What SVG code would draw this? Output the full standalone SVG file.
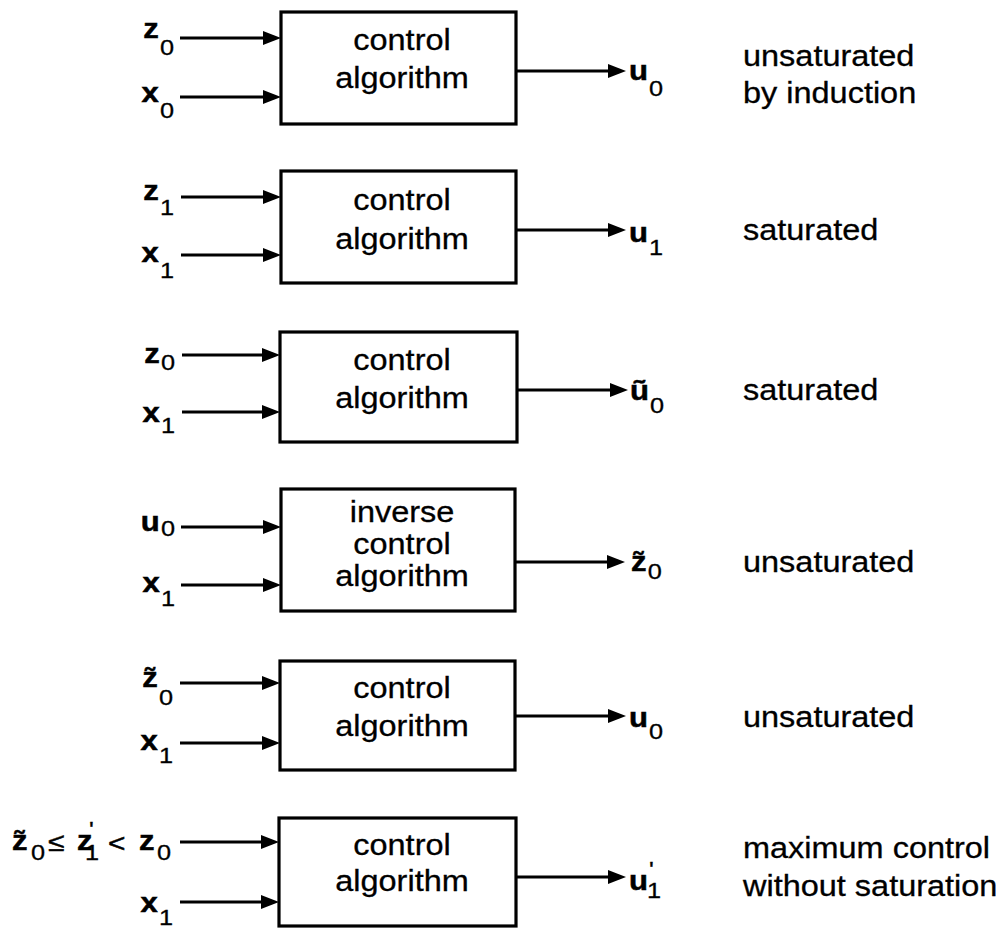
<svg xmlns="http://www.w3.org/2000/svg" width="1004" height="929" viewBox="0 0 1004 929">
  <style>
    text { font-family: "Liberation Sans", Arial, sans-serif; fill: #000; }
    .lbl { font-size: 29px; stroke: #000; stroke-width: 0.3; }
    .blk { text-anchor: middle; }
    .var { font-size: 27px; font-weight: bold; stroke: #000; stroke-width: 0.5; }
    .sub { font-size: 22px; font-weight: normal; stroke: #000; stroke-width: 0.3; }
    .op  { font-size: 26px; font-weight: normal; stroke: #000; stroke-width: 0.5; }
    .box { fill: #fff; stroke: #000; stroke-width: 3.2; }
    .wire { stroke: #000; stroke-width: 3.2; fill: none; marker-end: url(#head); }
  </style>
  <defs>
    <marker id="head" viewBox="0 0 18 14" refX="9" refY="7" markerUnits="userSpaceOnUse" markerWidth="18" markerHeight="14" orient="auto">
      <path d="M0,0 L18,7 L0,14 Z" fill="#000"/>
    </marker>
  </defs>
  <rect width="1004" height="929" fill="#fff"/>

  <!-- connectors: inputs end on the box edge, outputs end before the result symbol -->
  <g id="connectors">
    <line class="wire" x1="180" y1="38" x2="272" y2="38"/>
    <line class="wire" x1="180" y1="97" x2="272" y2="97"/>
    <line class="wire" x1="516" y1="71" x2="617" y2="71"/>

    <line class="wire" x1="181" y1="197" x2="272" y2="197"/>
    <line class="wire" x1="181" y1="255" x2="272" y2="255"/>
    <line class="wire" x1="516" y1="230" x2="617" y2="230"/>

    <line class="wire" x1="182" y1="355" x2="271" y2="355"/>
    <line class="wire" x1="182" y1="412" x2="271" y2="412"/>
    <line class="wire" x1="517" y1="390" x2="619" y2="390"/>

    <line class="wire" x1="181" y1="527" x2="272" y2="527"/>
    <line class="wire" x1="181" y1="585" x2="272" y2="585"/>
    <line class="wire" x1="515" y1="562" x2="616" y2="562"/>

    <line class="wire" x1="180" y1="683" x2="271" y2="683"/>
    <line class="wire" x1="180" y1="743" x2="271" y2="743"/>
    <line class="wire" x1="515" y1="716" x2="617" y2="716"/>

    <line class="wire" x1="180" y1="842" x2="270" y2="842"/>
    <line class="wire" x1="180" y1="902" x2="270" y2="902"/>
    <line class="wire" x1="516" y1="877" x2="617" y2="877"/>
  </g>

  <!-- row 1 -->
  <g id="block1">
    <rect class="box" x="281" y="12" width="235" height="112"/>
    <text class="lbl blk" transform="matrix(1.12 0 0 1 402 0)" y="50">control</text>
    <text class="lbl blk" transform="matrix(1.12 0 0 1 402 0)" y="88">algorithm</text>
  </g>
  <g id="in1">
    <text text-anchor="end" transform="matrix(1.15 0 0 1 174 0)" y="38"><tspan class="var">z</tspan><tspan class="sub" dx="1" dy="17">0</tspan></text>
    <text text-anchor="end" transform="matrix(1.15 0 0 1 174 0)" y="102"><tspan class="var">x</tspan><tspan class="sub" dx="1" dy="16">0</tspan></text>
  </g>
  <g id="out1">
    <text transform="matrix(1.15 0 0 1 629 0)" y="80"><tspan class="var">u</tspan><tspan class="sub" dx="1" dy="16">0</tspan></text>
  </g>
  <g id="note1">
    <text class="lbl" transform="matrix(1.12 0 0 1 743 0)" y="66">unsaturated</text>
    <text class="lbl" transform="matrix(1.12 0 0 1 743 0)" y="103">by induction</text>
  </g>

  <!-- row 2 -->
  <g id="block2">
    <rect class="box" x="281" y="171" width="235" height="112"/>
    <text class="lbl blk" transform="matrix(1.12 0 0 1 402 0)" y="210">control</text>
    <text class="lbl blk" transform="matrix(1.12 0 0 1 402 0)" y="249">algorithm</text>
  </g>
  <g id="in2">
    <text text-anchor="end" transform="matrix(1.15 0 0 1 174 0)" y="200"><tspan class="var">z</tspan><tspan class="sub" dx="1" dy="15">1</tspan></text>
    <text text-anchor="end" transform="matrix(1.15 0 0 1 174 0)" y="262"><tspan class="var">x</tspan><tspan class="sub" dx="1" dy="16">1</tspan></text>
  </g>
  <g id="out2">
    <text transform="matrix(1.15 0 0 1 629 0)" y="242"><tspan class="var">u</tspan><tspan class="sub" dx="1" dy="13">1</tspan></text>
  </g>
  <g id="note2">
    <text class="lbl" transform="matrix(1.12 0 0 1 743 0)" y="240">saturated</text>
  </g>

  <!-- row 3 -->
  <g id="block3">
    <rect class="box" x="280" y="332" width="237" height="110"/>
    <text class="lbl blk" transform="matrix(1.12 0 0 1 402 0)" y="370">control</text>
    <text class="lbl blk" transform="matrix(1.12 0 0 1 402 0)" y="408">algorithm</text>
  </g>
  <g id="in3">
    <text text-anchor="end" transform="matrix(1.15 0 0 1 175 0)" y="363"><tspan class="var">z</tspan><tspan class="sub" dx="1" dy="7">0</tspan></text>
    <text text-anchor="end" transform="matrix(1.15 0 0 1 175 0)" y="422"><tspan class="var">x</tspan><tspan class="sub" dx="1" dy="11">1</tspan></text>
  </g>
  <g id="out3">
    <text transform="matrix(1.15 0 0 1 630 0)" y="400"><tspan class="var">ũ</tspan><tspan class="sub" dx="1" dy="13">0</tspan></text>
  </g>
  <g id="note3">
    <text class="lbl" transform="matrix(1.12 0 0 1 743 0)" y="400">saturated</text>
  </g>

  <!-- row 4 -->
  <g id="block4">
    <rect class="box" x="281" y="489" width="234" height="122"/>
    <text class="lbl blk" transform="matrix(1.12 0 0 1 402 0)" y="522">inverse</text>
    <text class="lbl blk" transform="matrix(1.12 0 0 1 402 0)" y="554">control</text>
    <text class="lbl blk" transform="matrix(1.12 0 0 1 402 0)" y="586">algorithm</text>
  </g>
  <g id="in4">
    <text text-anchor="end" transform="matrix(1.15 0 0 1 175 0)" y="531"><tspan class="var">u</tspan><tspan class="sub" dx="1" dy="5">0</tspan></text>
    <text text-anchor="end" transform="matrix(1.15 0 0 1 175 0)" y="592"><tspan class="var">x</tspan><tspan class="sub" dx="1" dy="14">1</tspan></text>
  </g>
  <g id="out4">
    <text transform="matrix(1.15 0 0 1 631 0)" y="571"><tspan class="var">z̃</tspan><tspan class="sub" dx="1" dy="8">0</tspan></text>
  </g>
  <g id="note4">
    <text class="lbl" transform="matrix(1.12 0 0 1 743 0)" y="572">unsaturated</text>
  </g>

  <!-- row 5 -->
  <g id="block5">
    <rect class="box" x="280" y="661" width="235" height="109"/>
    <text class="lbl blk" transform="matrix(1.12 0 0 1 402 0)" y="698">control</text>
    <text class="lbl blk" transform="matrix(1.12 0 0 1 402 0)" y="736">algorithm</text>
  </g>
  <g id="in5">
    <text text-anchor="end" transform="matrix(1.15 0 0 1 173 0)" y="687"><tspan class="var">z̃</tspan><tspan class="sub" dx="1" dy="18">0</tspan></text>
    <text text-anchor="end" transform="matrix(1.15 0 0 1 173 0)" y="750"><tspan class="var">x</tspan><tspan class="sub" dx="1" dy="13">1</tspan></text>
  </g>
  <g id="out5">
    <text transform="matrix(1.15 0 0 1 629 0)" y="727"><tspan class="var">u</tspan><tspan class="sub" dx="1" dy="12">0</tspan></text>
  </g>
  <g id="note5">
    <text class="lbl" transform="matrix(1.12 0 0 1 743 0)" y="727">unsaturated</text>
  </g>

  <!-- row 6 -->
  <g id="block6">
    <rect class="box" x="279" y="818" width="237" height="108"/>
    <text class="lbl blk" transform="matrix(1.12 0 0 1 402 0)" y="855">control</text>
    <text class="lbl blk" transform="matrix(1.12 0 0 1 402 0)" y="891">algorithm</text>
  </g>
  <g id="in6">
    <text class="var" transform="matrix(1.15 0 0 1 12 0)" y="850">z̃</text>
    <text class="sub" transform="matrix(1.15 0 0 1 31 0)" y="860">0</text>
    <text class="op" transform="matrix(1.15 0 0 1 48 0)" y="851">≤</text>
    <text class="var" transform="matrix(1.15 0 0 1 77 0)" y="850">z</text>
    <text class="sub" transform="matrix(1.15 0 0 1 85 0)" y="860">1</text>
    <text class="sub" transform="matrix(1.15 0 0 1 89 0)" y="837">'</text>
    <text class="op" transform="matrix(1.15 0 0 1 108 0)" y="852">&lt;</text>
    <text class="var" transform="matrix(1.15 0 0 1 139 0)" y="850">z</text>
    <text class="sub" transform="matrix(1.15 0 0 1 157 0)" y="860">0</text>
    <text text-anchor="end" transform="matrix(1.15 0 0 1 173 0)" y="912"><tspan class="var">x</tspan><tspan class="sub" dx="1" dy="13">1</tspan></text>
  </g>
  <g id="out6">
    <text class="var" transform="matrix(1.15 0 0 1 629 0)" y="890">u</text>
    <text class="sub" transform="matrix(1.15 0 0 1 649 0)" y="877">'</text>
    <text class="sub" transform="matrix(1.15 0 0 1 647 0)" y="898">1</text>
  </g>
  <g id="note6">
    <text class="lbl" transform="matrix(1.12 0 0 1 743 0)" y="858">maximum control</text>
    <text class="lbl" transform="matrix(1.12 0 0 1 743 0)" y="896">without saturation</text>
  </g>
</svg>
